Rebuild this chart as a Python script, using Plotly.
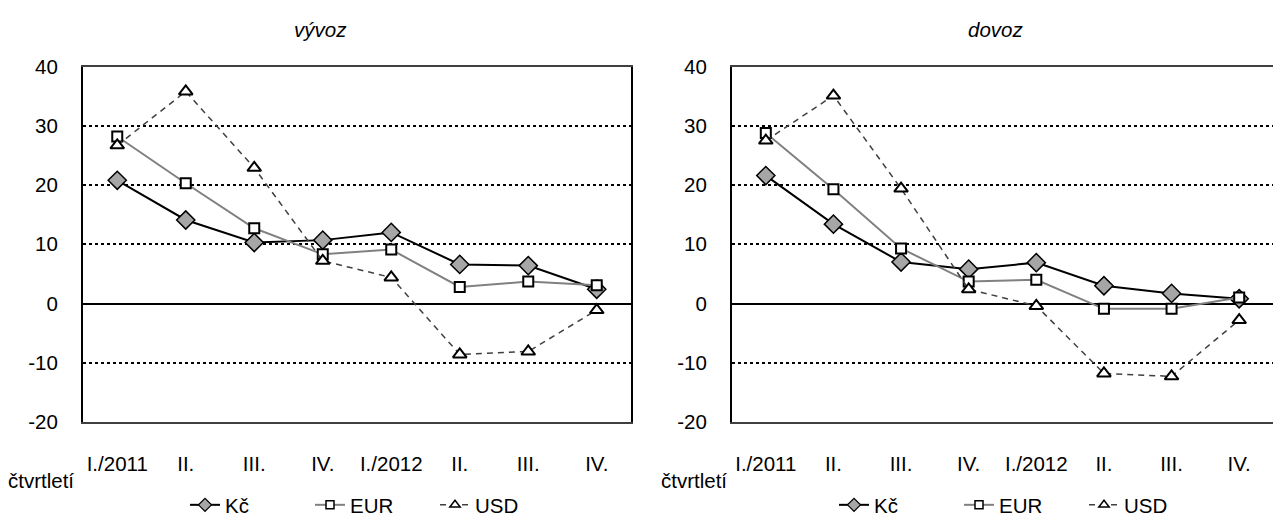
import plotly.graph_objects as go

quarters = ["I./2011", "II.", "III.", "IV.", "I./2012", "II.", "III.", "IV."]
xpos = list(range(len(quarters)))

vyvoz_kc = [20.8, 14.1, 10.3, 10.7, 12.0, 6.6, 6.4, 2.4]
vyvoz_eur = [28.2, 20.3, 12.7, 8.3, 9.1, 2.8, 3.7, 3.1]
vyvoz_usd = [26.7, 35.8, 22.9, 7.2, 4.4, -8.6, -8.1, -1.1]

dovoz_kc = [21.6, 13.4, 7.0, 5.8, 6.9, 3.0, 1.7, 0.8]
dovoz_eur = [28.8, 19.3, 9.3, 3.7, 4.0, -0.9, -0.9, 1.0]
dovoz_usd = [27.5, 35.1, 19.4, 2.4, -0.4, -11.8, -12.3, -2.8]

y_ticks = [-20, -10, 0, 10, 20, 30, 40]
y_ticktext = ["-20", "-10", "0", "10", "20", "30", "40"]

FONT = "Liberation Sans, Arial, sans-serif"
FS = 20.5

W, H = 1273, 525


def px(x):
    return x / W


def py(y):
    return (H - y) / H


styles = {
    "Kč": dict(line=dict(color="#000000", width=2),
               marker=dict(symbol="diamond", size=14, color="#A6A6A6",
                           line=dict(color="#000000", width=1.5)),
               legmarker=dict(symbol="diamond", size=10, color="#A6A6A6",
                              line=dict(color="#000000", width=1.2))),
    "EUR": dict(line=dict(color="#808080", width=2),
                marker=dict(symbol="square", size=10, color="#FFFFFF",
                            line=dict(color="#000000", width=2)),
                legmarker=dict(symbol="square", size=8, color="#FFFFFF",
                               line=dict(color="#000000", width=1.5))),
    "USD": dict(line=dict(color="#404040", width=1.5, dash="6px,5px"),
                marker=dict(symbol="triangle-up", size=12, color="#FFFFFF",
                            line=dict(color="#000000", width=2)),
                legmarker=dict(symbol="triangle-up", size=9, color="#FFFFFF",
                               line=dict(color="#000000", width=1.5))),
}

fig = go.Figure()

panels = [
    ("x", "y", "legend", {"Kč": vyvoz_kc, "EUR": vyvoz_eur, "USD": vyvoz_usd}),
    ("x2", "y2", "legend2", {"Kč": dovoz_kc, "EUR": dovoz_eur, "USD": dovoz_usd}),
]
for xa, ya, lg, series in panels:
    for name, vals in series.items():
        st = styles[name]
        fig.add_trace(go.Scatter(
            x=xpos, y=vals, name=name, mode="lines+markers",
            line=st["line"], marker=st["marker"],
            xaxis=xa, yaxis=ya, showlegend=False, cliponaxis=False,
        ))
    # legend-only entries with the smaller legend markers
    for name in series:
        st = styles[name]
        fig.add_trace(go.Scatter(
            x=[None], y=[None], name=name, mode="lines+markers",
            line=st["line"], marker=st["legmarker"],
            xaxis=xa, yaxis=ya, legend=lg, showlegend=True,
        ))

xcommon = dict(
    range=[-0.5, 7.5], tickvals=xpos, ticktext=quarters, showgrid=False,
    zeroline=False, showline=True, mirror=True, linecolor="#404040",
    linewidth=1.5, ticks="", ticklabelstandoff=23, automargin=False,
    tickfont=dict(family=FONT, size=FS, color="#000000"), fixedrange=True,
)
ycommon = dict(
    range=[-20, 40], tickvals=y_ticks, ticktext=y_ticktext,
    showgrid=True, gridcolor="#000000", griddash="dot", gridwidth=1.5,
    zeroline=True, zerolinecolor="#000000", zerolinewidth=2,
    showline=True, linecolor="#000000", linewidth=2, ticks="",
    ticklabelstandoff=19, automargin=False,
    tickfont=dict(family=FONT, size=FS, color="#000000"), fixedrange=True,
)

ydom = [py(431), py(68)]

legend_common = dict(orientation="h", yanchor="middle", xanchor="left",
                     y=py(516), font=dict(family=FONT, size=FS),
                     bgcolor="rgba(0,0,0,0)", entrywidth=80,
                     entrywidthmode="pixels")

fig.update_layout(
    width=W, height=H,
    margin=dict(l=0, r=0, t=0, b=0),
    paper_bgcolor="#FFFFFF", plot_bgcolor="#FFFFFF",
    font=dict(family=FONT, size=FS, color="#000000"),
    xaxis=dict(domain=[px(83), px(631)], anchor="y", **xcommon),
    yaxis=dict(domain=ydom, anchor="x", mirror=True, **ycommon),
    xaxis2=dict(domain=[px(732), 1.0], anchor="y2", **xcommon),
    yaxis2=dict(domain=ydom, anchor="x2", mirror=False, **ycommon),
    legend=dict(x=px(185), **legend_common),
    legend2=dict(x=px(185 + 649), **legend_common),
    annotations=[
        dict(text="<i>vývoz</i>", x=px(320), y=py(30), xref="paper", yref="paper",
             showarrow=False, xanchor="center", yanchor="middle",
             font=dict(family=FONT, size=FS)),
        dict(text="<i>dovoz</i>", x=px(995), y=py(30), xref="paper", yref="paper",
             showarrow=False, xanchor="center", yanchor="middle",
             font=dict(family=FONT, size=FS)),
        dict(text="čtvrtletí", x=px(6), y=py(491), xref="paper", yref="paper",
             showarrow=False, xanchor="left", yanchor="middle",
             font=dict(family=FONT, size=FS)),
        dict(text="čtvrtletí", x=px(659), y=py(491), xref="paper", yref="paper",
             showarrow=False, xanchor="left", yanchor="middle",
             font=dict(family=FONT, size=FS)),
    ],
)

fig.write_html(
    "out.html",
    config={"displayModeBar": False},
    post_script="document.body.style.margin='0';"
                "document.documentElement.style.overflow='hidden';",
)
